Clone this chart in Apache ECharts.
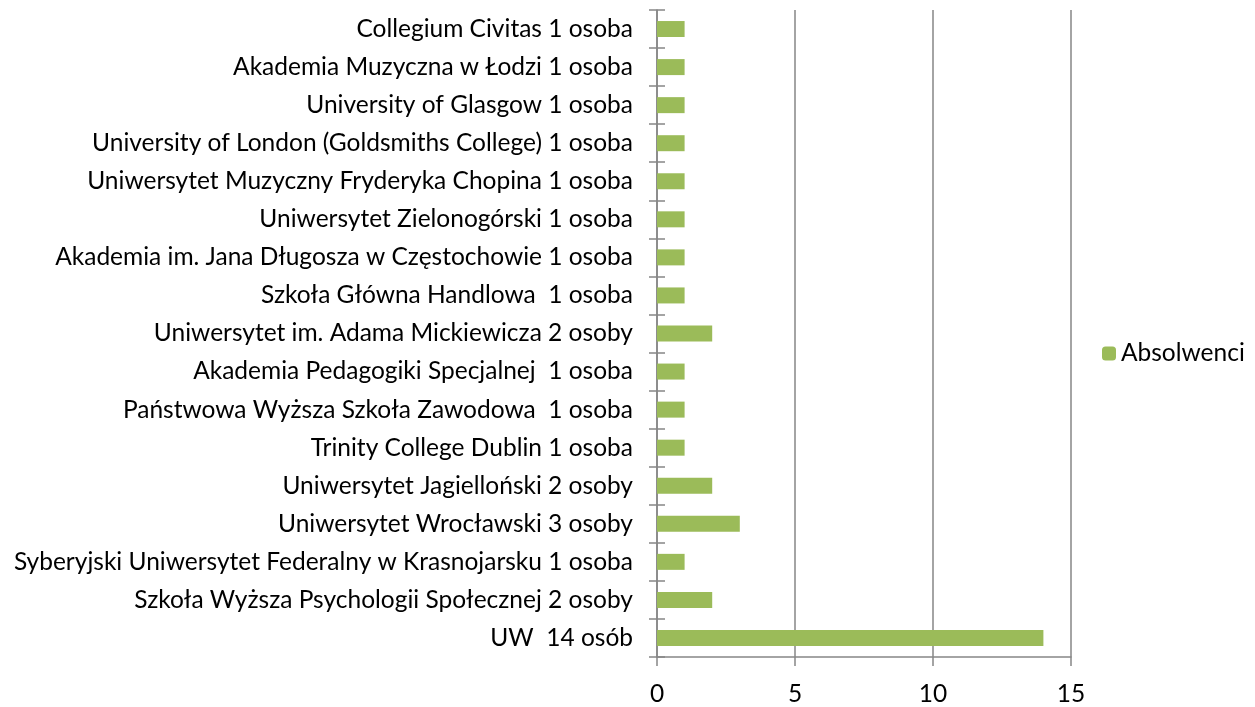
<!DOCTYPE html>
<html>
<head>
<meta charset="utf-8">
<script src="https://cdn.jsdelivr.net/npm/echarts@6/dist/echarts.min.js"></script>
<style>
  html, body { margin: 0; padding: 0; background: #fff; }
  #chart { width: 1255px; height: 707px; }
</style>
</head>
<body>
<div id="chart"></div>
<script>
// categories listed bottom to top, as the axis draws them
const categories = [
  'UW  14 osób',
  'Szkoła Wyższa Psychologii Społecznej 2 osoby',
  'Syberyjski Uniwersytet Federalny w Krasnojarsku 1 osoba',
  'Uniwersytet Wrocławski 3 osoby',
  'Uniwersytet Jagielloński 2 osoby',
  'Trinity College Dublin 1 osoba',
  'Państwowa Wyższa Szkoła Zawodowa  1 osoba',
  'Akademia Pedagogiki Specjalnej  1 osoba',
  'Uniwersytet im. Adama Mickiewicza 2 osoby',
  'Szkoła Główna Handlowa  1 osoba',
  'Akademia im. Jana Długosza w Częstochowie 1 osoba',
  'Uniwersytet Zielonogórski 1 osoba',
  'Uniwersytet Muzyczny Fryderyka Chopina 1 osoba',
  'University of London (Goldsmiths College) 1 osoba',
  'University of Glasgow 1 osoba',
  'Akademia Muzyczna w Łodzi 1 osoba',
  'Collegium Civitas 1 osoba'
];
const absolwenci = [14, 2, 1, 3, 2, 1, 1, 1, 2, 1, 1, 1, 1, 1, 1, 1, 1];
const seriesName = 'Absolwenci';

const font = 'Lato';
const fontSize = 24.5;
const axisGray = '#868686';

const chart = echarts.init(document.getElementById('chart'));
chart.setOption({
  animation: false,
  textStyle: { fontFamily: font },
  legend: {
    data: [seriesName],
    orient: 'vertical',
    left: 1097,
    top: 'middle',
    itemWidth: 14,
    itemHeight: 14,
    itemGap: 5,
    textStyle: { fontSize: fontSize, color: '#000', fontFamily: font }
  },
  grid: { left: 657, right: 184, top: 10, bottom: 47 },
  xAxis: {
    type: 'value',
    min: 0,
    max: 15,
    interval: 5,
    axisLine: { show: true, lineStyle: { color: axisGray, width: 1.5 } },
    axisTick: { show: true, length: 9, lineStyle: { color: axisGray, width: 1.5 } },
    axisLabel: { fontSize: fontSize, color: '#000', margin: 25, fontFamily: font },
    splitLine: { show: true, lineStyle: { color: axisGray, width: 1.5 } }
  },
  yAxis: [
    {
      type: 'category',
      data: categories,
      axisLine: { show: true, lineStyle: { color: axisGray, width: 1.5 } },
      axisTick: { show: true, length: 8, lineStyle: { color: axisGray, width: 1.5 } },
      axisLabel: { fontSize: fontSize, color: '#000', margin: 24, fontFamily: font }
    },
    {
      type: 'category',
      data: categories,
      position: 'left',
      axisLine: { show: false },
      axisTick: { show: true, inside: true, length: 8, lineStyle: { color: axisGray, width: 1.5 } },
      axisLabel: { show: false }
    }
  ],
  series: [{
    name: seriesName,
    type: 'bar',
    data: absolwenci,
    barWidth: 16,
    itemStyle: { color: '#9BBB59' }
  }]
});
</script>
</body>
</html>
